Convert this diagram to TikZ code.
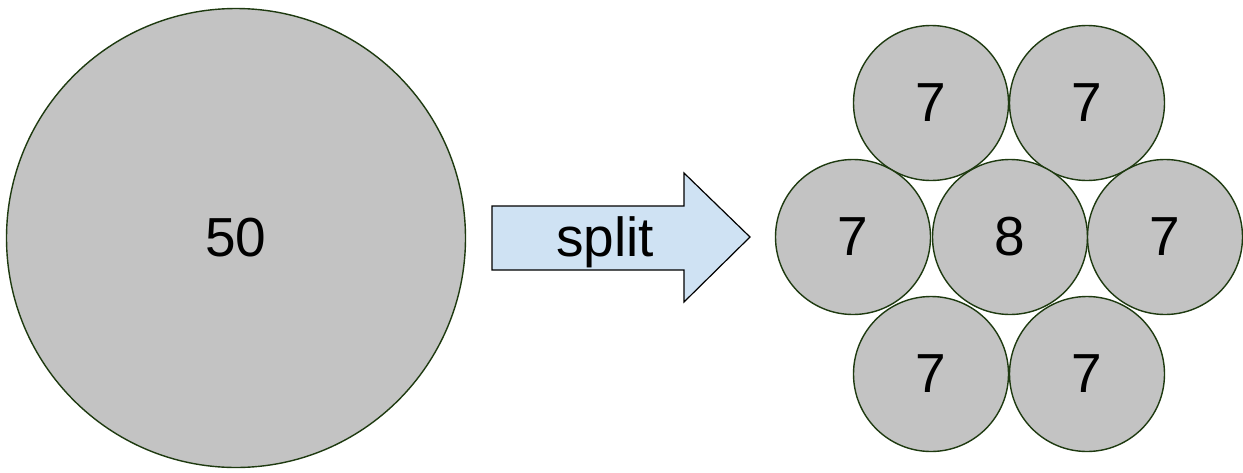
\documentclass[tikz,border=0pt]{standalone}
\usepackage{fontspec}
\setmainfont{Liberation Sans}
\definecolor{edge}{HTML}{1E3A10}
\definecolor{ballfill}{HTML}{C3C3C3}
\definecolor{arrowfill}{HTML}{CFE2F3}
\begin{document}
\begin{tikzpicture}[x=1pt,y=-1pt,
  label font/.style={font=\fontsize{55}{55}\selectfont},
  ball/.style={circle,draw=edge,line width=1.4pt,fill=ballfill,inner sep=0pt,label font},
  bigball/.style={ball,minimum size=459pt},
  smallball/.style={ball,minimum size=155pt}]
\useasboundingbox (0,0) rectangle (1243,472);
% the single large ball
\node[bigball] (big) at (236,238) {50};
% the split arrow
\draw[fill=arrowfill,draw=black,line width=1.2pt,line join=miter]
  (492,206) -- (684,206) -- (684,173) -- (750,237) -- (684,302) -- (684,270) -- (492,270) -- cycle;
\node[label font,anchor=base] (split) at (605,256) {split};
% seven smaller balls
\node[smallball] (t1) at (931,103) {7};
\node[smallball] (t2) at (1087,103) {7};
\node[smallball] (m1) at (853,237) {7};
\node[smallball] (m2) at (1010,237) {8};
\node[smallball] (m3) at (1165,237) {7};
\node[smallball] (b1) at (931,374) {7};
\node[smallball] (b2) at (1087,374) {7};
\end{tikzpicture}
\end{document}
